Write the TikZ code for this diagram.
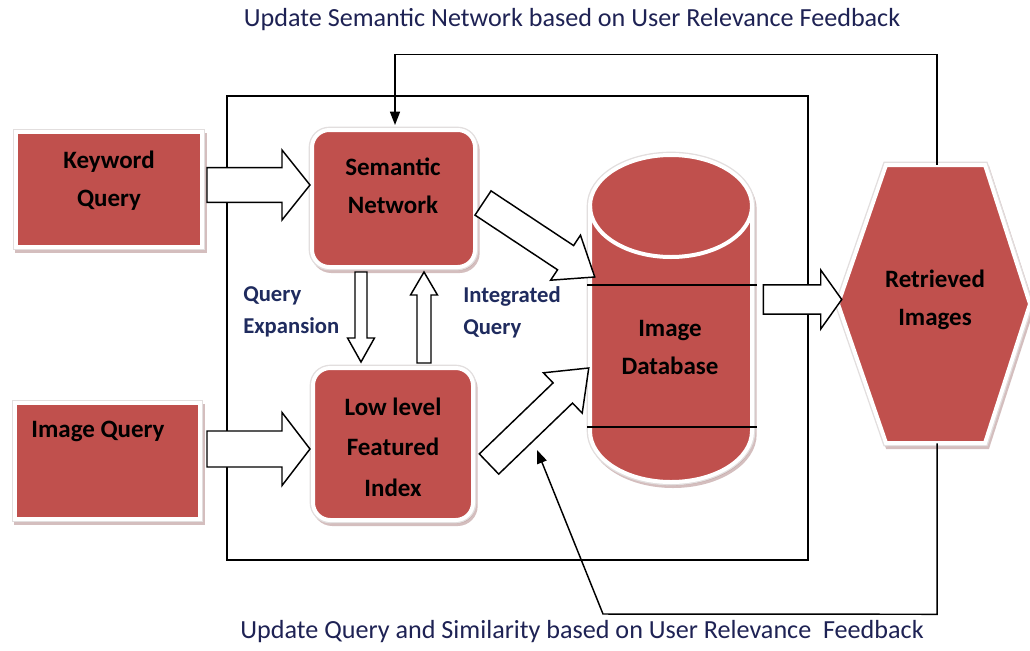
\documentclass[tikz,border=0pt]{standalone}
\usepackage{fontspec}
\setmainfont{Carlito}
\usetikzlibrary{arrows.meta,calc,fit,shadows}

\definecolor{boxred}{HTML}{C0504D}
\definecolor{labelnavy}{HTML}{1F2B5E}
\definecolor{captionink}{HTML}{1E2254}
\definecolor{halo}{HTML}{E2DEDE}
\definecolor{shade}{HTML}{B89494}

\tikzset{
  redbox/.style={fill=boxred, draw=white, line width=3pt, inner sep=0pt,
    drop shadow={shadow xshift=1.5pt, shadow yshift=-2.5pt, fill=shade,
                 draw=shade, line width=4pt, opacity=.6},
    preaction={draw=halo, line width=5pt}},
  roundbox/.style={redbox, rounded corners=13pt},
  anchorbox/.style={inner sep=0pt, draw=none},
  nodetext/.style={font=\fontsize{18.75pt}{28.5pt}\selectfont\bfseries,
    align=center, text=black, inner sep=0pt},
  lbl/.style={font=\fontsize{17pt}{24pt}\selectfont\bfseries,
    align=left, text=labelnavy, inner sep=0pt},
  caption/.style={font=\fontsize{19.6pt}{22pt}\selectfont,
    text=captionink, inner sep=0pt},
  frameline/.style={draw=black, line width=1.1pt},
  blockarr/.style={draw=black, fill=white, line width=1.1pt, line join=miter},
  fb/.style={draw=black, line width=1.1pt,
    -{Triangle[length=10pt,width=7.5pt]}},
  dbline/.style={draw=black, line width=1.1pt},
}

% block arrow: #1 tail, #2 tip, #3 shaft half width, #4 head half width, #5 head length
\newcommand\blockarrow[5]{%
  \coordinate (ba-neck) at ($(#2)!#5!(#1)$);
  \path[blockarr]
    ($(#1)!#3!90:(#2)$) --
    ($(ba-neck)!#3!-90:(#1)$) --
    ($(ba-neck)!#4!-90:(#1)$) --
    (#2) --
    ($(ba-neck)!#4!90:(#1)$) --
    ($(ba-neck)!#3!90:(#1)$) --
    ($(#1)!#3!-90:(#2)$) -- cycle;
}

\begin{document}
\begin{tikzpicture}[x=0.75pt,y=-0.75pt]
\useasboundingbox (0,0) rectangle (1030,650);
\fill[white] (0,0) rectangle (1030,650);

% system frame
\node[anchorbox, frameline, fit={(227,96) (808,560)}] (frame) {};

% input boxes
\node[redbox, fit={(16,132) (202,247)}] (kw) {};
\node[redbox, fit={(15,403) (200,519)}] (iq) {};

% processing boxes
\node[roundbox, fit={(312,130) (475,267)}] (sem) {};
\node[roundbox, fit={(313,368) (473,520)}] (low) {};

% image database cylinder
\path[redbox]
  (590,206) -- (590,431)
  arc[start angle=180, end angle=360, x radius=60.75pt, y radius=38.25pt]
  -- (752,206)
  arc[start angle=0, end angle=180, x radius=60.75pt, y radius=38.25pt]
  -- cycle;
\draw[white, line width=3pt]
  (590,206) arc[start angle=180, end angle=360, x radius=60.75pt, y radius=38.25pt];
\node[anchorbox, fit={(590,155) (752,482)}] (db) {};
\draw[dbline] (587,285) -- (757,285);
\draw[dbline] (587,427) -- (757,427);

% retrieved images hexagon
\path[redbox] (886,165) -- (985,165) -- (1030,304) -- (985,443)
  -- (886,443) -- (838,304) -- cycle;
\node[anchorbox, fit={(838,165) (1030,443)}] (ret) {};

% block arrows
\blockarrow{$(kw.east)+(3,-4.5)$}{$(sem.west)+(0,-13.5)$}{13.1pt}{26.25pt}{21pt}
\blockarrow{$(iq.east)+(5,-12)$}{$(low.west)+(-1,5)$}{13.5pt}{27.4pt}{21pt}
\blockarrow{$(sem.east)+(6,4.5)$}{$(db.west)+(5,-41.5)$}{10.9pt}{20.25pt}{26.25pt}
\blockarrow{$(low.east)+(14,20)$}{$(db.west)+(-1,49.5)$}{10.5pt}{21pt}{27pt}
\blockarrow{$(db.east)+(11,-19)$}{$(ret.west)+(4,-4.5)$}{10.9pt}{22.1pt}{15.75pt}
\blockarrow{$(sem.south)+(-32.5,3)$}{$(low.north)+(-32,-4)$}{4.5pt}{10.1pt}{18pt}
\blockarrow{$(low.north)+(31,-3)$}{$(sem.south)+(30.5,3)$}{5.25pt}{10.1pt}{17.25pt}

% relevance feedback loops
\draw[fb] ($(ret.north)+(3,0)$) -- ++(0,-110) -| ($(sem.north)+(1.5,-3)$);
\coordinate (fbtip) at (537,450);
\draw[fb] ($(ret.south)+(3,0)$) -- ++(0,171) -- (603,614) -- (fbtip);

% texts
\node[nodetext] (kwt) at (109,181) {Keyword\\Query};
\node[nodetext] (iqt) at (98,431) {Image Query};
\node[nodetext] (semt) at (393,186) {Semantic\\Network};
\node[nodetext, font=\fontsize{18.75pt}{30.5pt}\selectfont\bfseries] (lowt) at (393,447) {Low level\\Featured\\Index};
\node[nodetext] (dbt) at (670,347) {Image\\Database};
\node[nodetext] (rett) at (935,300) {Retrieved\\Images};

\node[lbl, anchor=west] (qe) at (243,312) {Query\\Expansion};
\node[lbl, anchor=west] (integ) at (463,312) {Integrated\\Query};

\node[caption] (topcap) at (572,20) {Update Semantic Network based on User Relevance Feedback};
\node[caption] (botcap) at (582,632) {Update Query and Similarity based on User Relevance\ \ Feedback};
\end{tikzpicture}
\end{document}
